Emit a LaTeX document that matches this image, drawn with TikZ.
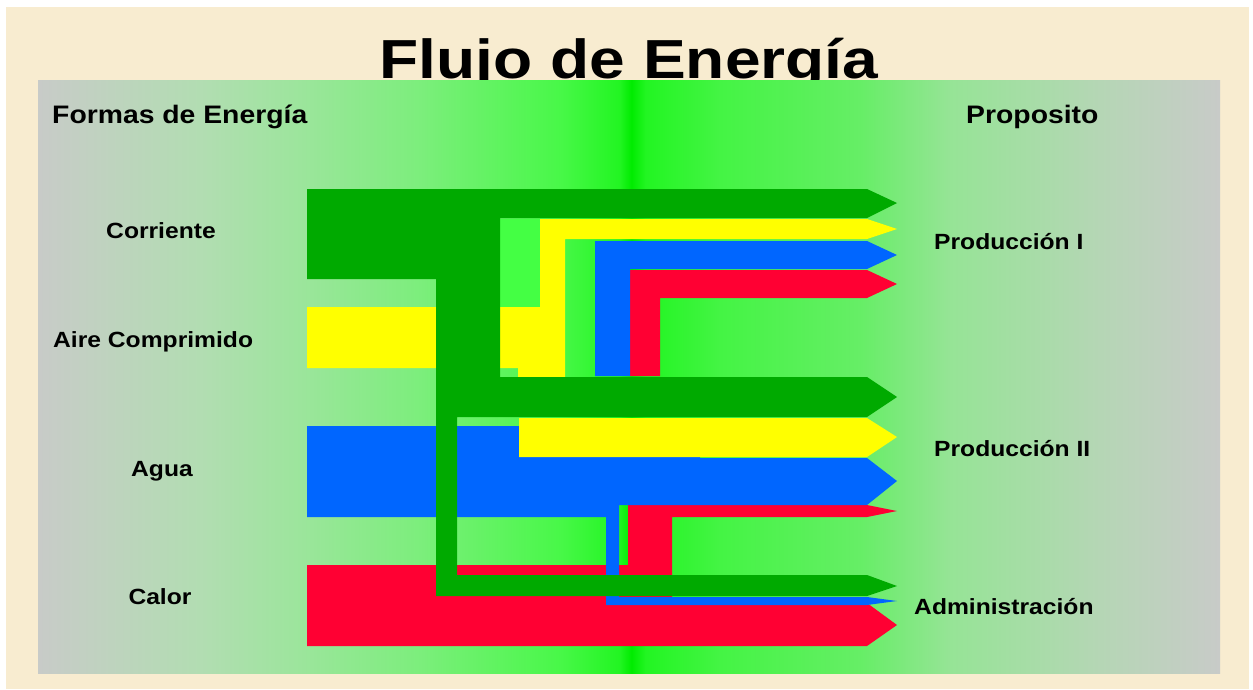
\documentclass[tikz,border=0pt]{standalone}
\usepackage{fontspec}
\setmainfont{Liberation Sans}
\usepackage{graphicx}
\usetikzlibrary{positioning}

\definecolor{paper}{HTML}{F8ECD0}
\definecolor{panelgray}{HTML}{C8CBC8}
\definecolor{shadeA}{HTML}{B2DDB2}
\definecolor{shadeB}{HTML}{9CE59C}
\definecolor{shadeC}{HTML}{7CEE7C}
\definecolor{shadeD}{HTML}{48F848}
\definecolor{shadeE}{HTML}{22F522}
\definecolor{shadeF}{HTML}{00EC00}
\definecolor{shadeG}{HTML}{44F444}
\definecolor{shadeH}{HTML}{66EE66}
\definecolor{shadeI}{HTML}{96E496}
\definecolor{shadeJ}{HTML}{B5D6B5}
\definecolor{greenflow}{HTML}{00AA00}
\definecolor{yellowflow}{HTML}{FFFF00}
\definecolor{blueflow}{HTML}{0066FF}
\definecolor{redflow}{HTML}{FF0033}
\definecolor{lightflow}{HTML}{44FF44}

\pgfdeclarehorizontalshading{panelshade}{100bp}{color(0bp)=(panelgray); color(25bp)=(panelgray);
  color(31.85bp)=(shadeA); color(36.08bp)=(shadeB); color(41.16bp)=(shadeC);
  color(47.08bp)=(shadeD); color(49.6bp)=(shadeE); color(50.1bp)=(shadeF);
  color(50.7bp)=(shadeE); color(53.85bp)=(shadeG); color(59.77bp)=(shadeH);
  color(63.58bp)=(shadeI); color(69.92bp)=(shadeJ); color(75bp)=(panelgray);
  color(100bp)=(panelgray)}

\newcommand{\widetext}[1]{\scalebox{1.12}[1]{#1}}

\begin{document}
\begin{tikzpicture}[x=1pt,y=1pt,
    label/.style={font=\fontsize{22}{22}\selectfont\bfseries, inner sep=0pt},
    colhead/.style={font=\fontsize{25.3}{25.3}\selectfont\bfseries, inner sep=0pt},
    heading/.style={font=\fontsize{55}{55}\selectfont\bfseries, inner sep=0pt},
    green flow/.style={fill=greenflow},
    yellow flow/.style={fill=yellowflow},
    blue flow/.style={fill=blueflow},
    red flow/.style={fill=redflow}]
  \useasboundingbox (0,0) rectangle (1253,-690);
  \fill[white] (0,0) rectangle (1253,-690);
  \fill[paper] (6,-7) rectangle (1249,-689);

  % title, its descenders go under the panel
  \node[heading, anchor=base] (title) at (629,-79) {\scalebox{1.165}[1]{Flujo de Energía}};
  \shade[shading=panelshade] (38,-81) rectangle (1220,-673);

  % column heads
  \node[colhead, anchor=base west] (formas) at (52,-124) {\widetext{Formas de Energía}};
  \node[colhead, anchor=base west] (proposito) at (966,-124) {\widetext{Proposito}};

  % sources
  \node[label, anchor=base] (corriente) at (161,-238) {\widetext{Corriente}};
  \node[label, anchor=base west] (aire) at (53,-347) {\widetext{Aire Comprimido}};
  \node[label, anchor=base] (agua) at (162,-476) {\widetext{Agua}};
  \node[label, anchor=base] (calor) at (160,-604) {\widetext{Calor}};

  % uses
  \node[label, anchor=base west] (prod1) at (934,-249) {\widetext{Producción I}};
  \node[label, anchor=base west] (prod2) at (934,-456) {\widetext{Producción II}};
  \node[label, anchor=base west] (admin) at (914,-614) {\widetext{Administración}};

  % red: Calor
  \fill[red flow] (307,-565) -- (628,-565) -- (628,-505) -- (867,-505) -- (897,-511)
    -- (867,-517) -- (672,-517) -- (672,-603) -- (867,-603) -- (897,-625)
    -- (867,-646) -- (307,-646) -- cycle;
  \fill[red flow] (630,-376) -- (630,-270) -- (867,-270) -- (897,-284) -- (867,-298)
    -- (660,-298) -- (660,-376) -- cycle;

  % blue: Agua
  \fill[blue flow] (307,-426) -- (700,-426) -- (700,-458) -- (867,-458) -- (897,-481)
    -- (867,-505) -- (619,-505) -- (619,-597) -- (867,-597) -- (897,-601)
    -- (867,-605) -- (606,-605) -- (606,-517) -- (307,-517) -- cycle;
  \fill[blue flow] (595,-376) -- (595,-241) -- (867,-241) -- (897,-255) -- (867,-269)
    -- (630,-269) -- (630,-376) -- cycle;

  % yellow: Aire Comprimido
  \fill[lightflow] (500,-219) rectangle (540,-307);
  \fill[yellow flow] (307,-307) -- (540,-307) -- (540,-219) -- (867,-219) -- (897,-229)
    -- (867,-239) -- (565,-239) -- (565,-377) -- (518,-377) -- (518,-368)
    -- (307,-368) -- cycle;
  \fill[yellow flow] (519,-418) -- (867,-418) -- (897,-437) -- (867,-457) -- (519,-457) -- cycle;

  % green: Corriente
  \fill[green flow] (307,-189) -- (867,-189) -- (897,-203) -- (867,-218) -- (500,-218)
    -- (500,-377) -- (867,-377) -- (897,-397) -- (867,-417) -- (457,-417)
    -- (457,-575) -- (867,-575) -- (897,-586) -- (867,-596) -- (436,-596)
    -- (436,-279) -- (307,-279) -- cycle;
\end{tikzpicture}
\end{document}
